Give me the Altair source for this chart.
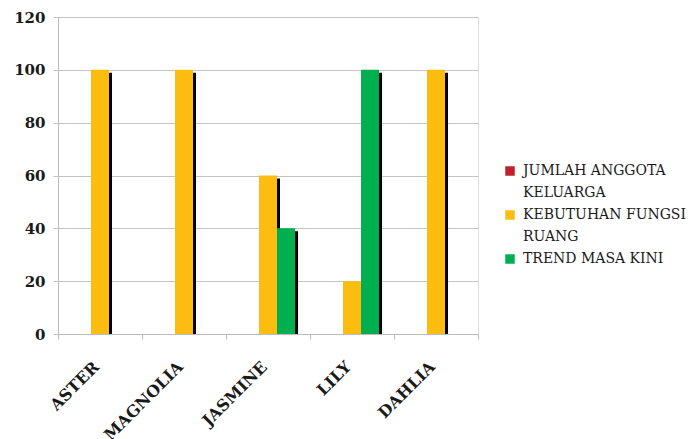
import altair as alt
import pandas as pd

categories = ["ASTER", "MAGNOLIA", "JASMINE", "LILY", "DAHLIA"]
series = ["JUMLAH ANGGOTA|KELUARGA", "KEBUTUHAN FUNGSI|RUANG", "TREND MASA KINI"]
jumlah = [0, 0, 0, 0, 0]
kebutuhan = [100, 100, 60, 20, 100]
trend = [0, 0, 40, 100, 0]
colors = ["#C0202A", "#FDBD10", "#00B050"]
y_ticks = [0, 20, 40, 60, 80, 100, 120]

rows = []
for i, c in enumerate(categories):
    for s, vals in zip(series, [jumlah, kebutuhan, trend]):
        rows.append({"cat": c, "series": s, "value": vals[i]})
df = pd.DataFrame(rows)

FONT = "DejaVu Serif"

x = alt.X(
    "cat:N",
    sort=categories,
    scale=alt.Scale(paddingInner=0, paddingOuter=0),
    axis=alt.Axis(
        title=None, labelAngle=-45, labelAlign="right", labelBaseline="middle",
        labelFont=FONT, labelFontWeight="bold", labelFontSize=16, labelColor="#1a1a1a",
        labelPadding=25, labelOffset=-4, tickBand="extent", tickSize=5,
        tickColor="#bbbbbb", domainColor="#bbbbbb", grid=False, labelOverlap=False,
    ),
)
y = alt.Y(
    "value:Q",
    scale=alt.Scale(domain=[0, 120], nice=False),
    axis=alt.Axis(
        title=None, values=y_ticks, labelFont=FONT, labelFontWeight="bold",
        labelFontSize=15, labelColor="#1a1a1a", labelPadding=8, tickSize=5,
        tickColor="#c4c4c4", domainColor="#bbbbbb", gridColor="#c4c4c4",
        gridWidth=1.2,
    ),
)

shadow = alt.Chart(df).mark_bar(color="black", yOffset=3, clip=True).encode(
    x=x, y=y,
    xOffset=alt.XOffset("series:N", sort=series,
                        scale=alt.Scale(range=[3, 87], paddingInner=0, paddingOuter=0.83)),
)
bars = alt.Chart(df).mark_bar().encode(
    x=x, y=y,
    xOffset=alt.XOffset("series:N", sort=series,
                        scale=alt.Scale(range=[0, 84], paddingInner=0, paddingOuter=0.83)),
    color=alt.Color(
        "series:N", sort=series,
        scale=alt.Scale(domain=series, range=colors),
        legend=alt.Legend(
            title=None, orient="none", legendX=445, legendY=147, padding=0,
            symbolType="square", symbolSize=90, symbolStrokeWidth=0,
            labelFont=FONT, labelFontSize=14, labelColor="#1a1a1a",
            labelExpr="split(datum.label, '|')", labelLimit=300,
            rowPadding=8, labelOffset=6,
        ),
    ),
)

chart = (
    alt.layer(shadow, bars)
    .resolve_scale(xOffset="independent")
    .properties(
        width=420, height=317,
        autosize=alt.AutoSizeParams(type="none"),
        padding={"left": 50, "top": 9, "right": 212, "bottom": 120},
    )
    .configure_view(stroke=None)
    .configure(style={"guide-label": {"lineHeight": 22}})
)

chart.save("out.html", embed_options={"renderer": "svg", "actions": False})
